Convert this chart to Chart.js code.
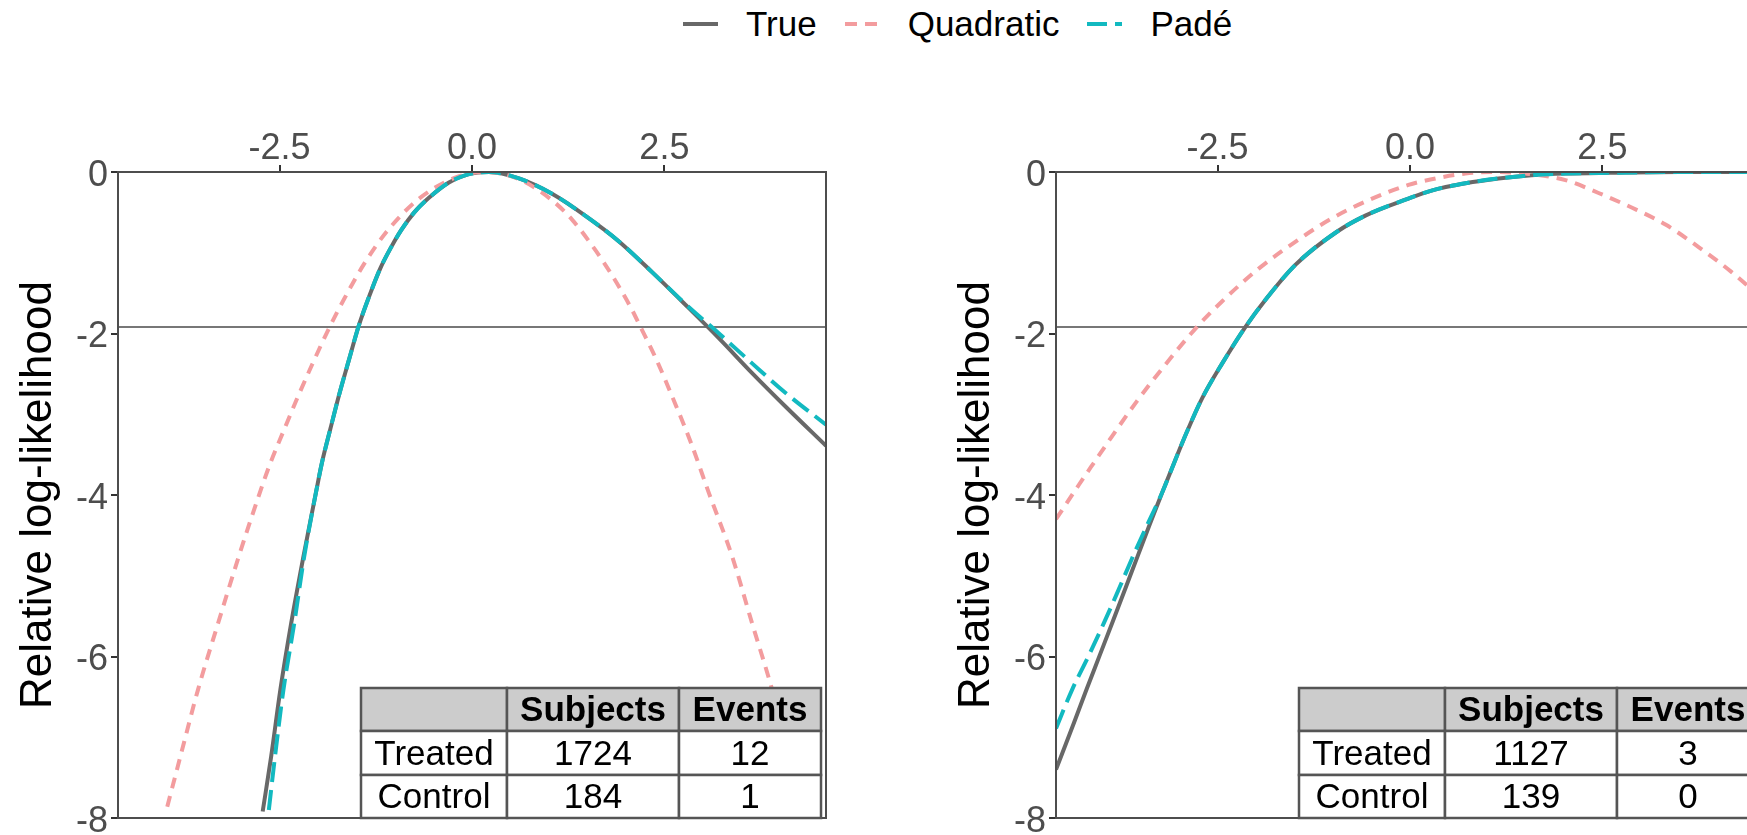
<!DOCTYPE html>
<html>
<head>
<meta charset="utf-8">
<script src="https://cdn.jsdelivr.net/npm/chart.js@4.4.1/dist/chart.umd.min.js"></script>
<style>
  html, body { margin: 0; padding: 0; background: #fff; }
  body { width: 1747px; height: 835px; overflow: hidden; position: relative; font-family: "Liberation Sans", Arial, sans-serif; }
  #legend { position: absolute; left: 683px; top: 0; height: 48px; display: flex; align-items: center; font-size: 35px; color: #000; white-space: nowrap; }
  #legend svg { margin-right: 28px; }
  #legend span { margin-right: 28px; }
  .panel { position: absolute; top: 60px; }
</style>
</head>
<body>
<div id="legend"></div>
<canvas id="leftChart" class="panel" width="938" height="800" style="left:0"></canvas>
<canvas id="rightChart" class="panel" width="938" height="800" style="left:938px"></canvas>
<script>
// axis ticks
const xTickValues = [-2.5, 0, 2.5];
const xTickLabels = ['-2.5', '0.0', '2.5'];
const yTickValues = [0, -2, -4, -6, -8];
const yTickLabels = ['0', '-2', '-4', '-6', '-8'];
const refLine = -1.92;

const seriesNames = ['True', 'Quadratic', 'Padé'];
const seriesColors = ['#686868', '#f39c9e', '#12b9c0'];

// table
const tableHeader = ['', 'Subjects', 'Events'];
const tableRows = ['Treated', 'Control'];
const leftSubjects = [1724, 184];
const leftEvents = [12, 1];
const rightSubjects = [1127, 139];
const rightEvents = [3, 0];

// left panel curves
const leftTrueX = [-2.72, -2.61, -2.49, -2.35, -2.19, -2.03, -1.95, -1.84, -1.73, -1.60, -1.47, -1.34, -1.19, -1.05, -0.92, -0.75, -0.56, -0.30, -0.05, 0.22, 0.61, 1.04, 1.47, 1.91, 2.34, 2.78, 3.21, 3.64, 4.08, 4.60];
const leftTrueY = [-7.92, -7.24, -6.41, -5.59, -4.76, -3.98, -3.60, -3.18, -2.77, -2.33, -1.90, -1.55, -1.19, -0.93, -0.72, -0.50, -0.32, -0.13, -0.03, 0, -0.08, -0.27, -0.54, -0.86, -1.24, -1.65, -2.06, -2.49, -2.91, -3.39];
const leftQuadX = [-3.96, -3.79, -3.56, -3.30, -3.03, -2.76, -2.63, -2.45, -2.27, -2.08, -1.85, -1.66, -1.41, -1.11, -0.70, -0.22, 0.17, 0.61, 1.04, 1.30, 1.59, 1.82, 2.07, 2.19, 2.39, 2.61, 2.84, 3.08, 3.38, 3.64, 3.90, 4.13, 4.30];
const leftQuadY = [-7.86, -7.24, -6.41, -5.59, -4.76, -3.98, -3.63, -3.21, -2.80, -2.39, -1.92, -1.57, -1.15, -0.74, -0.34, -0.07, 0, -0.09, -0.35, -0.59, -0.95, -1.28, -1.69, -1.92, -2.31, -2.80, -3.34, -3.98, -4.76, -5.59, -6.41, -7.24, -7.86];
const leftPadeX = [-2.64, -2.56, -2.45, -2.31, -2.18, -2.03, -1.95, -1.84, -1.73, -1.60, -1.47, -1.34, -1.19, -1.05, -0.92, -0.75, -0.56, -0.30, -0.05, 0.22, 0.61, 1.04, 1.47, 1.91, 2.34, 2.78, 3.21, 3.64, 4.08, 4.60];
const leftPadeY = [-7.90, -7.24, -6.41, -5.59, -4.76, -3.98, -3.60, -3.18, -2.77, -2.33, -1.90, -1.55, -1.19, -0.93, -0.72, -0.50, -0.32, -0.13, -0.03, 0, -0.08, -0.27, -0.54, -0.86, -1.24, -1.64, -2.00, -2.37, -2.74, -3.13];

// right panel curves
const rightTrueX = [-4.60, -4.37, -4.20, -4.03, -3.86, -3.70, -3.54, -3.38, -3.22, -3.06, -2.90, -2.70, -2.44, -2.14, -1.86, -1.49, -0.95, -0.58, -0.05, 0.28, 0.72, 1.15, 1.58, 2.02, 2.60, 3.50, 4.60];
const rightTrueY = [-7.40, -6.83, -6.40, -5.98, -5.56, -5.16, -4.76, -4.36, -3.97, -3.59, -3.22, -2.80, -2.37, -1.92, -1.56, -1.15, -0.74, -0.54, -0.34, -0.23, -0.14, -0.08, -0.04, -0.02, -0.01, 0, 0];
const rightQuadX = [-4.60, -4.30, -4.10, -3.87, -3.55, -3.20, -2.77, -2.44, -1.97, -1.36, -0.97, -0.54, -0.02, 0.28, 0.72, 1.10, 1.50, 2.02, 2.45, 2.88, 3.32, 3.75, 4.18, 4.60];
const rightQuadY = [-4.30, -3.87, -3.59, -3.27, -2.84, -2.41, -1.92, -1.60, -1.20, -0.78, -0.55, -0.35, -0.16, -0.09, -0.02, 0, -0.02, -0.10, -0.26, -0.44, -0.65, -0.93, -1.24, -1.59];
const rightPadeX = [-4.60, -4.39, -4.18, -3.98, -3.79, -3.60, -3.41, -3.22, -3.06, -2.90, -2.70, -2.44, -2.14, -1.86, -1.49, -0.95, -0.58, -0.05, 0.28, 0.72, 1.15, 1.58, 2.02, 2.60, 3.50, 4.60];
const rightPadeY = [-6.89, -6.41, -6.00, -5.59, -5.18, -4.76, -4.36, -3.97, -3.59, -3.22, -2.80, -2.37, -1.92, -1.56, -1.15, -0.74, -0.54, -0.34, -0.23, -0.14, -0.08, -0.04, -0.02, -0.01, 0, 0];

Chart.defaults.font.family = '"Liberation Sans", Arial, sans-serif';

function pts(xs, ys) {
    return xs.map((x, i) => ({ x: x, y: ys[i] }));
}

// legend
const legend = document.getElementById('legend');
const dashes = ['', '12 8', '20 8'];
seriesNames.forEach((name, i) => {
    const svg = document.createElementNS('http://www.w3.org/2000/svg', 'svg');
    svg.setAttribute('width', 35);
    svg.setAttribute('height', 10);
    const ln = document.createElementNS('http://www.w3.org/2000/svg', 'line');
    ln.setAttribute('x1', 0); ln.setAttribute('x2', 35);
    ln.setAttribute('y1', 5); ln.setAttribute('y2', 5);
    ln.setAttribute('stroke', seriesColors[i]);
    ln.setAttribute('stroke-width', 4);
    if (dashes[i]) ln.setAttribute('stroke-dasharray', dashes[i]);
    svg.appendChild(ln);
    legend.appendChild(svg);
    const sp = document.createElement('span');
    sp.textContent = name;
    legend.appendChild(sp);
});

// ref line, border and count table
const panelExtras = {
    id: 'panelExtras',
    beforeDatasetsDraw(chart) {
        const { ctx, chartArea: a, scales } = chart;
        const yy = scales.y.getPixelForValue(refLine);
        ctx.save();
        ctx.strokeStyle = '#777';
        ctx.lineWidth = 2;
        ctx.beginPath();
        ctx.moveTo(a.left, yy);
        ctx.lineTo(a.right, yy);
        ctx.stroke();
        ctx.restore();
    },
    afterDatasetsDraw(chart, args, opts) {
        const { ctx, chartArea: a } = chart;
        ctx.save();
        ctx.strokeStyle = '#4d4d4d';
        ctx.lineWidth = 2;
        ctx.strokeRect(a.left, a.top, a.right - a.left, a.bottom - a.top);

        const colW = [146, 172, 142];
        const rowH = [43, 44, 43];
        const x0 = a.left + 243;
        const y0 = a.bottom - 130;
        const cells = [tableHeader,
            [tableRows[0], String(opts.subjects[0]), String(opts.events[0])],
            [tableRows[1], String(opts.subjects[1]), String(opts.events[1])]];
        let y = y0;
        cells.forEach((row, r) => {
            let x = x0;
            row.forEach((txt, c) => {
                ctx.fillStyle = r === 0 ? '#cccccc' : '#ffffff';
                ctx.fillRect(x, y, colW[c], rowH[r]);
                ctx.strokeStyle = '#555';
                ctx.lineWidth = 2.5;
                ctx.strokeRect(x, y, colW[c], rowH[r]);
                ctx.fillStyle = '#000';
                ctx.font = (r === 0 ? 'bold ' : '') + '35px "Liberation Sans", Arial, sans-serif';
                ctx.textAlign = 'center';
                ctx.textBaseline = 'middle';
                ctx.fillText(txt, x + colW[c] / 2, y + rowH[r] / 2 + 2);
                x += colW[c];
            });
            y += rowH[r];
        });
        ctx.restore();
    }
};

function makePanel(id, curves, subjects, events) {
    const common = { showLine: true, pointRadius: 0, borderWidth: 4, fill: false, cubicInterpolationMode: 'monotone' };
    return new Chart(document.getElementById(id), {
        type: 'scatter',
        data: {
            datasets: [
                Object.assign({ label: seriesNames[0], data: pts(curves[0], curves[1]), borderColor: seriesColors[0], order: 3 }, common),
                Object.assign({ label: seriesNames[1], data: pts(curves[2], curves[3]), borderColor: seriesColors[1], borderDash: [11, 8], order: 2 }, common),
                Object.assign({ label: seriesNames[2], data: pts(curves[4], curves[5]), borderColor: seriesColors[2], borderDash: [20, 8], order: 1 }, common)
            ]
        },
        options: {
            responsive: false,
            animation: false,
            layout: { padding: { left: 0, top: 0, right: 112, bottom: 42 } },
            plugins: {
                legend: { display: false },
                tooltip: { enabled: false },
                panelExtras: { subjects: subjects, events: events }
            },
            scales: {
                x: {
                    type: 'linear',
                    position: 'top',
                    min: -4.6,
                    max: 4.6,
                    afterBuildTicks: (s) => { s.ticks = xTickValues.map(v => ({ value: v })); },
                    afterFit: (s) => { s.height = 112; },
                    border: { display: false },
                    grid: { drawOnChartArea: false, drawTicks: true, tickLength: 7, color: '#333', lineWidth: 2 },
                    ticks: {
                        autoSkip: false,
                        maxRotation: 0,
                        padding: -6,
                        color: '#4d4d4d',
                        font: { size: 36 },
                        callback: (v) => xTickLabels[xTickValues.indexOf(v)]
                    }
                },
                y: {
                    type: 'linear',
                    min: -8,
                    max: 0,
                    afterBuildTicks: (s) => { s.ticks = yTickValues.map(v => ({ value: v })); },
                    afterFit: (s) => { s.width = 118; },
                    border: { display: false },
                    grid: { drawOnChartArea: false, drawTicks: true, tickLength: 7, color: '#333', lineWidth: 2 },
                    ticks: {
                        autoSkip: false,
                        padding: 3,
                        labelOffset: 4,
                        color: '#4d4d4d',
                        font: { size: 36 },
                        callback: (v) => yTickLabels[yTickValues.indexOf(v)]
                    },
                    title: {
                        display: true,
                        text: 'Relative log-likelihood',
                        color: '#000',
                        font: { size: 44 },
                        padding: { top: 12, bottom: 0 }
                    }
                }
            }
        },
        plugins: [panelExtras]
    });
}

makePanel('leftChart', [leftTrueX, leftTrueY, leftQuadX, leftQuadY, leftPadeX, leftPadeY], leftSubjects, leftEvents);
makePanel('rightChart', [rightTrueX, rightTrueY, rightQuadX, rightQuadY, rightPadeX, rightPadeY], rightSubjects, rightEvents);
</script>
</body>
</html>
